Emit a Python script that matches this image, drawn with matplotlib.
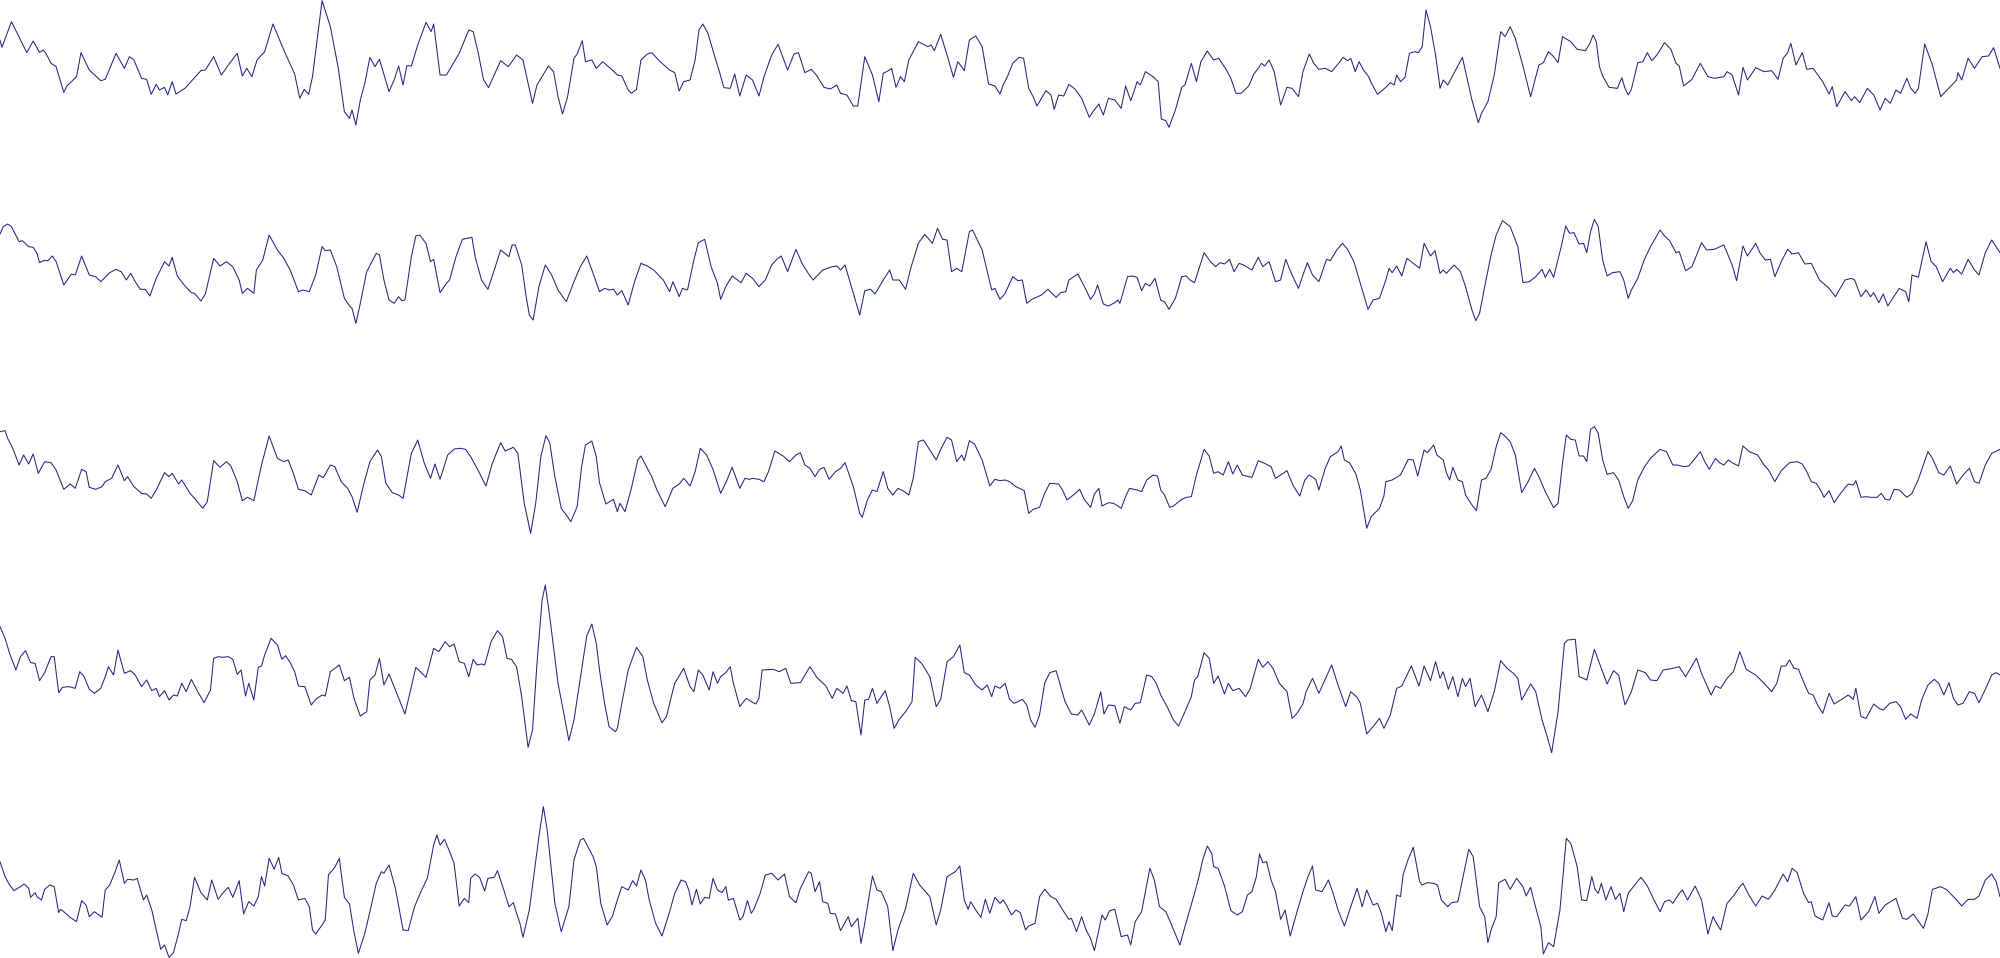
import numpy as np
import matplotlib
matplotlib.use('Agg')
import matplotlib.pyplot as plt

# five traces as (sample, depth) turning points.
# each trace is split in two halves of 1568 samples; depth grows downward.
HALF = 1568

ch1_a = [(0,120),(3,142),(18,65),(42,158),(52,123),(62,157),(68,150),(72,160),(80,190),(88,200),(100,277),(105,258),(120,230),(127,158),(140,210),(158,242),(165,238),(182,160),(195,205),(203,170),(210,180),(222,235),(230,238),(237,283),(245,253),(250,270),(258,262),(263,285),(270,245),(276,282),(290,265),(315,212),(322,210),(335,170),(347,225),(360,190),(372,160),(380,228),(387,205),(395,230),(403,180),(415,155),(428,72),(445,150),(462,222),(470,295),(477,268),(484,283),(490,230),(505,2),(518,80),(530,200),(540,335),(548,355),(552,330),(558,375),(565,300),(572,250),(580,172),(588,200),(595,178),(610,275),(618,240),(625,198),(632,255),(638,197),(645,198),(655,135),(668,67),(676,95),(680,72),(690,225),(700,225),(720,160),(735,90),(742,95),(750,160),(758,238),(766,263),(785,182),(797,200),(810,165),(820,180),(835,310),(842,255),(860,198),(868,215),(875,290),(882,342),(890,290),(900,175),(905,162),(913,122),(918,185),(928,180),(935,205),(945,185),(960,210),(968,225),(975,228),(985,270),(990,280),(998,268),(1005,180),(1015,162),(1022,158),(1035,185),(1050,210),(1058,218),(1065,273),(1072,245),(1082,240),(1090,180),(1096,90),(1102,72),(1110,100),(1120,165),(1128,215),(1135,263),(1145,265),(1152,222),(1160,288),(1170,225),(1180,240),(1190,288),(1198,230),(1210,165),(1220,133),(1235,210),(1245,162),(1252,158),(1262,218),(1272,208),(1280,225),(1292,262),(1302,267),(1312,255),(1318,280),(1328,285),(1338,318),(1345,318),(1356,170),(1368,225),(1378,305),(1385,220),(1395,210),(1398,205),(1405,262),(1412,230),(1418,245),(1425,180),(1440,125),(1455,140),(1460,135),(1465,152),(1475,103),(1485,165),(1495,232),(1502,185),(1512,212),(1520,120),(1530,108),(1540,140),(1550,252),(1560,258),(1568,282)]
ch1_b = [(0,285),(5,255),(12,228),(20,190),(30,172),(37,175),(45,265),(52,290),(58,318),(65,295),(72,272),(80,285),(85,328),(92,285),(100,288),(108,253),(118,268),(128,295),(140,352),(147,332),(155,312),(162,345),(170,295),(180,300),(190,325),(197,258),(205,302),(210,275),(215,245),(220,255),(228,215),(240,230),(248,245),(253,357),(260,362),(265,382),(275,330),(285,262),(290,255),(300,190),(308,245),(315,185),(325,153),(335,180),(343,175),(355,210),(362,235),(370,280),(378,280),(390,258),(398,222),(405,205),(410,190),(415,198),(422,180),(430,215),(440,315),(450,262),(458,265),(468,290),(475,215),(485,162),(492,190),(500,208),(510,205),(520,215),(530,192),(538,172),(545,182),(550,175),(557,215),(563,185),(570,210),(578,230),(583,252),(592,283),(605,262),(612,248),(618,255),(622,225),(628,245),(635,232),(642,160),(650,155),(656,158),(662,140),(668,30),(675,80),(683,165),(690,265),(695,240),(702,255),(725,172),(740,300),(750,368),(755,340),(765,305),(775,225),(785,95),(792,110),(800,80),(808,115),(820,198),(832,290),(845,195),(852,188),(860,155),(868,170),(875,188),(882,110),(895,125),(905,148),(918,152),(925,130),(930,105),(935,125),(940,200),(945,228),(955,262),(968,265),(975,233),(980,265),(985,285),(990,268),(1000,188),(1008,185),(1015,158),(1022,182),(1030,165),(1042,128),(1052,148),(1060,190),(1065,198),(1072,258),(1085,238),(1098,190),(1110,230),(1120,235),(1135,230),(1140,215),(1148,225),(1158,285),(1165,202),(1172,240),(1185,203),(1198,215),(1210,212),(1220,238),(1228,175),(1235,158),(1240,130),(1248,195),(1258,158),(1265,208),(1275,205),(1290,245),(1300,282),(1305,260),(1312,320),(1325,275),(1335,302),(1340,290),(1348,308),(1360,265),(1370,285),(1380,330),(1388,295),(1396,310),(1405,270),(1412,280),(1422,235),(1428,265),(1435,280),(1440,265),(1450,132),(1462,195),(1475,290),(1485,270),(1500,240),(1502,218),(1508,240),(1518,175),(1528,205),(1540,170),(1550,168),(1558,143),(1568,205)]

ch2_a = [(0,102),(5,80),(12,72),(18,80),(30,125),(35,122),(45,140),(52,142),(58,160),(62,188),(68,182),(75,182),(82,168),(88,185),(100,255),(112,222),(118,225),(128,168),(140,225),(150,230),(158,245),(172,218),(182,208),(190,215),(198,240),(205,220),(212,245),(220,268),(228,268),(235,288),(245,235),(258,185),(265,198),(270,172),(278,228),(290,258),(300,278),(305,280),(315,303),(322,282),(335,175),(345,198),(355,185),(365,200),(375,240),(380,280),(388,265),(398,280),(402,210),(412,180),(422,105),(435,150),(445,175),(455,210),(468,275),(475,270),(485,275),(495,225),(505,140),(510,152),(518,150),(528,200),(540,295),(548,318),(552,325),(558,370),(565,310),(575,215),(590,160),(595,165),(602,240),(610,300),(618,310),(625,290),(630,302),(635,300),(645,170),(652,108),(658,105),(668,130),(675,185),(680,178),(690,278),(700,250),(705,240),(715,170),(725,118),(740,112),(745,170),(755,240),(765,268),(775,210),(785,150),(798,170),(803,135),(808,135),(818,195),(825,290),(830,345),(836,360),(845,260),(855,195),(865,225),(875,270),(888,305),(900,245),(910,200),(920,168),(930,220),(940,275),(948,265),(955,270),(962,268),(968,285),(975,272),(985,315),(995,245),(1005,190),(1015,198),(1025,210),(1040,240),(1050,275),(1055,245),(1065,290),(1070,265),(1078,270),(1088,180),(1095,128),(1105,118),(1115,200),(1125,250),(1130,298),(1138,260),(1148,228),(1162,248),(1170,220),(1180,235),(1190,260),(1200,240),(1210,195),(1218,178),(1225,168),(1235,215),(1248,148),(1258,192),(1268,222),(1275,240),(1290,210),(1305,200),(1312,198),(1318,210),(1325,195),(1335,260),(1348,345),(1356,272),(1365,268),(1372,282),(1385,240),(1395,210),(1400,240),(1410,240),(1420,268),(1428,205),(1440,130),(1450,103),(1462,130),(1470,85),(1478,118),(1485,120),(1492,215),(1500,205),(1508,215),(1520,95),(1525,90),(1540,150),(1555,270),(1560,265),(1568,298)]
ch2_b = [(0,300),(8,280),(20,230),(28,242),(35,240),(42,310),(50,298),(65,285),(75,268),(88,292),(95,278),(103,275),(108,240),(122,222),(135,270),(142,298),(148,282),(153,255),(162,312),(170,318),(180,308),(185,300),(188,310),(200,230),(208,228),(215,232),(222,272),(228,250),(235,258),(243,235),(252,300),(258,305),(265,328),(275,295),(285,230),(292,228),(298,240),(305,248),(320,158),(330,185),(338,200),(345,188),(352,192),(360,178),(367,215),(375,190),(382,195),(395,210),(405,172),(412,200),(422,185),(432,245),(440,240),(448,178),(458,225),(468,265),(475,225),(482,188),(490,225),(500,245),(512,178),(518,182),(528,150),(537,130),(545,148),(555,185),(565,250),(577,328),(585,300),(595,295),(605,240),(610,205),(615,218),(622,198),(630,228),(638,175),(658,205),(665,130),(675,168),(682,152),(690,220),(695,210),(700,220),(712,195),(722,215),(730,260),(740,330),(746,362),(752,340),(760,260),(770,165),(778,105),(788,62),(800,80),(812,140),(820,248),(830,245),(840,230),(850,208),(855,232),(862,208),(868,232),(880,140),(887,78),(893,100),(900,98),(908,132),(915,130),(920,158),(926,95),(932,58),(938,80),(945,180),(952,228),(960,218),(972,215),(978,240),(985,295),(990,270),(1000,235),(1010,180),(1020,140),(1035,90),(1042,108),(1050,122),(1060,158),(1065,155),(1075,212),(1085,200),(1100,128),(1108,150),(1120,148),(1135,135),(1148,195),(1155,242),(1165,138),(1172,168),(1185,130),(1192,160),(1200,180),(1208,178),(1215,230),(1225,185),(1235,148),(1242,162),(1252,158),(1262,192),(1272,190),(1285,240),(1300,265),(1310,290),(1325,240),(1335,235),(1340,240),(1350,290),(1358,270),(1365,290),(1370,278),(1378,308),(1385,282),(1392,318),(1398,300),(1410,265),(1420,275),(1425,305),(1430,225),(1440,232),(1452,125),(1460,185),(1468,200),(1478,245),(1490,205),(1495,218),(1500,208),(1508,222),(1518,178),(1528,210),(1535,225),(1545,158),(1555,120),(1568,158)]

ch3_a = [(0,155),(8,152),(12,175),(20,205),(30,255),(37,225),(45,252),(52,222),(60,280),(70,245),(80,248),(88,270),(100,328),(110,312),(118,325),(128,268),(135,275),(140,322),(150,328),(160,320),(165,305),(175,295),(185,255),(195,302),(200,290),(210,320),(222,340),(230,342),(237,355),(245,330),(258,278),(265,290),(270,280),(280,312),(285,300),(298,340),(305,355),(318,385),(325,365),(335,242),(345,262),(355,245),(362,258),(372,305),(380,362),(388,352),(398,362),(410,255),(422,168),(435,235),(445,245),(452,240),(460,280),(468,328),(478,332),(488,345),(500,285),(507,293),(518,255),(525,260),(535,305),(545,325),(552,350),(560,397),(570,315),(580,245),(592,210),(598,230),(605,310),(615,338),(625,345),(632,355),(645,220),(655,180),(665,248),(675,295),(682,252),(690,298),(702,225),(712,207),(722,205),(730,208),(738,230),(748,265),(762,318),(772,250),(785,188),(792,213),(805,202),(812,220),(822,370),(832,460),(840,370),(848,230),(856,167),(862,188),(870,290),(880,385),(888,405),(895,425),(905,380),(912,260),(918,195),(928,183),(935,230),(940,308),(950,372),(962,358),(968,395),(972,370),(980,395),(990,325),(1000,240),(1005,228),(1015,265),(1022,290),(1030,330),(1043,380),(1055,325),(1065,312),(1072,295),(1082,318),(1090,275),(1098,205),(1108,225),(1118,268),(1130,340),(1140,300),(1148,262),(1160,325),(1168,295),(1175,298),(1180,295),(1190,298),(1198,305),(1205,275),(1215,213),(1228,228),(1238,245),(1248,225),(1255,218),(1262,255),(1270,265),(1278,290),(1285,268),(1292,262),(1300,298),(1310,275),(1318,265),(1325,248),(1338,320),(1348,400),(1352,412),(1360,360),(1368,330),(1375,335),(1385,275),(1392,325),(1400,345),(1408,325),(1418,335),(1425,345),(1432,295),(1440,185),(1448,180),(1458,210),(1468,240),(1475,208),(1485,172),(1492,180),(1500,245),(1508,225),(1512,242),(1520,182),(1528,192),(1540,240),(1552,318),(1560,298),(1568,302)]
ch3_b = [(0,310),(8,300),(15,305),(25,320),(38,332),(45,400),(52,388),(62,382),(70,340),(78,310),(92,312),(98,330),(105,360),(115,345),(125,328),(132,358),(142,382),(148,342),(155,325),(160,378),(170,368),(178,370),(185,378),(190,385),(198,345),(203,325),(215,330),(222,335),(230,300),(240,285),(247,288),(252,330),(258,345),(266,382),(272,378),(285,358),(292,352),(300,350),(308,285),(320,208),(328,228),(335,280),(342,275),(350,285),(358,245),(365,282),(372,255),(380,285),(390,290),(395,292),(405,242),(415,250),(425,260),(432,295),(440,285),(450,272),(460,318),(470,348),(478,300),(485,285),(495,298),(500,330),(510,265),(518,230),(530,215),(535,198),(540,240),(548,248),(558,282),(565,330),(575,445),(582,410),(595,385),(602,348),(605,305),(615,300),(628,285),(640,238),(648,240),(655,288),(665,210),(670,218),(680,195),(685,225),(695,240),(700,278),(705,300),(710,262),(718,300),(725,305),(730,345),(740,375),(747,392),(755,300),(762,295),(770,268),(778,200),(785,158),(790,165),(800,185),(808,225),(818,338),(828,305),(838,265),(845,290),(855,335),(868,383),(875,370),(882,250),(888,165),(895,178),(902,180),(908,228),(915,228),(920,245),(926,148),(932,140),(938,160),(945,240),(952,283),(962,278),(970,300),(978,350),(985,385),(992,362),(1000,300),(1010,262),(1020,235),(1035,208),(1045,215),(1055,255),(1062,255),(1072,260),(1080,258),(1090,235),(1098,215),(1105,245),(1112,268),(1122,235),(1128,248),(1135,255),(1142,240),(1148,248),(1158,258),(1165,198),(1175,215),(1188,225),(1198,255),(1205,270),(1215,305),(1225,272),(1238,248),(1250,245),(1258,252),(1265,275),(1272,305),(1280,310),(1288,335),(1292,352),(1300,332),(1308,368),(1318,340),(1330,312),(1338,315),(1342,302),(1350,352),(1358,350),(1365,352),(1375,352),(1382,340),(1388,358),(1395,360),(1402,328),(1410,330),(1422,352),(1430,340),(1440,298),(1455,215),(1462,235),(1472,278),(1480,285),(1490,258),(1500,312),(1510,285),(1520,265),(1528,305),(1535,310),(1545,255),(1555,220),(1568,208)]

ch4_a = [(0,200),(8,235),(15,280),(25,330),(32,290),(40,272),(48,308),(55,310),(62,362),(70,338),(80,290),(85,290),(92,398),(98,382),(108,380),(118,385),(125,335),(132,350),(140,388),(148,400),(158,385),(165,350),(170,320),(178,345),(185,270),(195,340),(205,332),(212,345),(222,380),(230,360),(238,392),(245,385),(250,410),(258,392),(265,420),(272,405),(278,408),(285,370),(292,395),(300,358),(310,395),(320,428),(330,390),(335,295),(342,290),(350,292),(358,290),(365,298),(372,343),(378,330),(385,408),(390,370),(398,420),(405,322),(410,318),(415,285),(425,235),(435,255),(442,298),(448,287),(455,308),(462,335),(468,378),(478,380),(488,435),(495,418),(505,405),(510,408),(518,335),(532,315),(540,362),(548,352),(555,415),(565,468),(575,455),(580,360),(588,345),(595,295),(602,375),(610,342),(620,390),(635,462),(645,380),(652,322),(668,352),(680,265),(688,275),(698,245),(705,260),(712,252),(720,305),(728,310),(735,350),(742,298),(748,315),(755,312),(760,315),(770,245),(780,212),(788,230),(795,295),(802,298),(810,320),(818,410),(828,562),(835,510),(842,310),(850,120),(855,75),(862,170),(875,370),(888,500),(892,542),(900,480),(912,330),(920,228),(928,192),(935,250),(940,330),(948,430),(955,500),(965,515),(968,505),(975,430),(985,330),(998,262),(1008,290),(1015,360),(1025,430),(1038,488),(1045,470),(1052,415),(1058,370),(1072,325),(1082,380),(1088,395),(1095,330),(1102,345),(1112,390),(1118,335),(1125,370),(1130,350),(1138,338),(1145,320),(1150,370),(1160,440),(1170,415),(1178,425),(1185,432),(1190,415),(1195,330),(1212,328),(1222,335),(1232,325),(1240,370),(1255,368),(1270,320),(1280,350),(1285,360),(1295,378),(1305,415),(1312,385),(1322,400),(1328,378),(1335,422),(1342,425),(1350,525),(1356,420),(1362,418),(1368,385),(1375,430),(1388,392),(1395,440),(1402,505),(1410,478),(1420,455),(1430,425),(1435,292),(1445,310),(1458,350),(1468,440),(1475,418),(1485,305),(1495,290),(1505,255),(1512,338),(1520,345),(1530,375),(1540,390),(1548,375),(1555,410),(1560,378),(1568,385)]
ch4_b = [(0,385),(8,370),(15,418),(22,430),(28,425),(35,418),(42,435),(48,480),(55,502),(62,465),(70,370),(78,338),(88,332),(95,378),(102,425),(112,462),(122,465),(128,450),(140,495),(148,462),(158,395),(163,462),(170,435),(180,437),(188,490),(195,440),(205,450),(212,430),(220,428),(230,345),(238,350),(245,370),(252,405),(262,440),(272,480),(280,498),(290,455),(300,410),(305,360),(310,350),(320,278),(328,295),(335,370),(342,348),(352,402),(358,370),(365,392),(375,385),(385,410),(392,388),(405,298),(412,322),(420,305),(428,325),(438,370),(450,395),(458,475),(465,462),(475,432),(480,395),(490,355),(500,400),(520,315),(530,375),(542,440),(550,395),(560,412),(565,430),(575,522),(585,500),(595,475),(602,505),(612,465),(622,385),(630,378),(645,318),(657,378),(665,318),(675,362),(683,305),(690,355),(695,335),(703,388),(710,350),(718,410),(725,355),(730,380),(737,355),(745,440),(755,405),(765,455),(775,395),(785,302),(795,325),(805,340),(812,355),(818,420),(832,372),(840,395),(850,480),(858,530),(865,578),(875,455),(885,250),(890,240),(902,238),(908,350),(915,355),(920,360),(932,268),(940,310),(952,372),(962,332),(970,345),(980,435),(990,395),(1000,330),(1012,338),(1020,360),(1030,362),(1040,330),(1055,325),(1065,320),(1075,350),(1085,318),(1092,295),(1100,340),(1108,375),(1115,405),(1122,378),(1130,385),(1140,355),(1150,335),(1160,275),(1170,328),(1185,345),(1198,370),(1210,395),(1218,370),(1225,318),(1232,318),(1238,300),(1245,325),(1252,328),(1262,375),(1268,400),(1275,405),(1282,435),(1290,460),(1300,400),(1308,432),(1320,418),(1330,405),(1338,418),(1342,385),(1350,470),(1358,475),(1370,432),(1378,445),(1385,450),(1395,430),(1405,425),(1412,440),(1420,478),(1428,462),(1438,475),(1445,420),(1455,375),(1465,358),(1472,370),(1480,405),(1488,368),(1495,415),(1502,435),(1510,430),(1520,395),(1528,400),(1535,428),(1545,388),(1555,345),(1562,338),(1568,345)]

ch5_a = [(0,305),(8,350),(15,375),(22,392),(32,380),(38,372),(45,385),(48,412),(55,398),(58,410),(65,420),(70,388),(78,375),(85,380),(92,458),(95,448),(100,455),(110,472),(120,485),(128,422),(135,435),(140,470),(148,455),(155,465),(160,472),(165,390),(172,375),(180,338),(187,300),(195,370),(200,358),(210,360),(215,355),(225,420),(230,405),(238,450),(245,510),(252,568),(258,555),(265,592),(272,578),(280,520),(285,478),(292,482),(298,440),(305,352),(315,398),(325,420),(332,360),(342,418),(350,398),(358,382),(365,412),(375,362),(382,462),(390,425),(398,438),(405,410),(410,350),(415,378),(422,295),(430,328),(437,292),(442,340),(452,348),(460,375),(468,420),(478,415),(485,440),(490,510),(495,522),(505,495),(510,480),(515,345),(525,322),(532,295),(540,412),(548,432),(555,515),(562,580),(572,520),(580,455),(590,370),(598,335),(602,340),(610,315),(620,385),(632,510),(640,512),(650,440),(660,395),(670,355),(680,255),(685,225),(690,255),(697,238),(705,275),(712,310),(720,438),(728,415),(735,428),(738,355),(745,342),(752,352),(760,393),(765,355),(775,352),(780,332),(790,390),(798,440),(805,428),(810,460),(815,488),(820,532),(830,450),(845,230),(852,140),(858,210),(870,430),(880,515),(892,440),(900,300),(910,240),(915,235),(930,290),(935,320),(942,430),(952,495),(960,470),(968,420),(975,380),(985,390),(992,362),(998,378),(1005,330),(1012,360),(1018,420),(1028,490),(1038,528),(1050,455),(1058,400),(1068,360),(1075,365),(1080,390),(1085,435),(1092,388),(1098,432),(1105,412),(1112,415),(1118,355),(1125,390),(1132,398),(1138,380),(1142,420),(1150,415),(1160,480),(1165,470),(1172,422),(1178,460),(1182,448),(1192,400),(1200,345),(1210,340),(1220,360),(1230,342),(1238,410),(1248,428),(1255,385),(1268,335),(1272,340),(1278,395),(1285,365),(1290,425),(1298,430),(1302,460),(1310,462),(1318,512),(1330,470),(1335,500),(1345,475),(1350,550),(1355,500),(1368,348),(1375,390),(1382,395),(1392,440),(1400,572),(1408,510),(1420,445),(1432,340),(1442,375),(1450,392),(1458,410),(1468,495),(1475,450),(1485,350),(1498,335),(1505,318),(1512,420),(1518,448),(1522,425),(1530,450),(1538,472),(1545,418),(1552,460),(1560,412),(1568,430)]
ch5_b = [(0,430),(5,420),(10,435),(18,465),(25,450),(32,458),(40,510),(45,498),(55,490),(62,410),(70,388),(80,410),(88,418),(100,455),(108,478),(112,475),(120,515),(128,470),(135,510),(142,535),(148,572),(155,510),(160,465),(165,480),(172,452),(180,448),(190,530),(200,525),(205,555),(212,485),(222,455),(228,395),(235,325),(242,360),(250,440),(260,455),(268,490),(282,555),(290,500),(305,400),(312,350),(318,298),(325,258),(332,280),(335,320),(342,325),(352,378),(362,452),(372,465),(380,455),(388,405),(395,395),(402,350),(407,282),(412,308),(418,305),(425,360),(432,395),(440,478),(447,450),(455,528),(465,460),(475,395),(482,355),(490,318),(495,390),(505,395),(515,360),(522,398),(530,450),(540,498),(550,440),(560,385),(568,440),(575,390),(585,435),(592,430),(598,460),(605,515),(610,485),(615,512),(622,405),(628,410),(632,345),(640,298),(648,262),(658,365),(662,375),(670,368),(680,370),(686,375),(692,420),(702,440),(708,428),(718,425),(725,360),(735,268),(742,290),(752,440),(760,470),(765,548),(770,510),(778,470),(782,368),(792,358),(800,388),(810,355),(820,380),(825,408),(832,382),(838,428),(848,500),(852,582),(860,548),(868,560),(878,450),(888,235),(895,250),(905,320),(912,420),(920,422),(928,350),(933,388),(938,400),(943,370),(950,420),(958,380),(965,418),(972,400),(978,455),(985,400),(998,368),(1005,352),(1015,378),(1025,418),(1035,455),(1042,425),(1050,420),(1055,430),(1065,400),(1070,390),(1078,420),(1090,378),(1100,420),(1110,522),(1118,470),(1122,485),(1130,510),(1140,430),(1150,408),(1160,380),(1165,370),(1175,408),(1185,438),(1195,408),(1205,418),(1215,390),(1228,342),(1235,365),(1242,325),(1250,338),(1260,400),(1268,428),(1272,425),(1278,468),(1290,480),(1300,428),(1305,468),(1312,470),(1325,435),(1332,438),(1342,410),(1350,480),(1362,455),(1372,410),(1378,460),(1388,435),(1405,415),(1415,475),(1422,478),(1432,462),(1448,505),(1455,462),(1462,388),(1475,380),(1485,390),(1500,420),(1508,438),(1518,418),(1528,418),(1535,408),(1545,360),(1555,342),(1562,365),(1568,410)]

channels = [(ch1_a, ch1_b), (ch2_a, ch2_b), (ch3_a, ch3_b), (ch4_a, ch4_b), (ch5_a, ch5_b)]
levels = [0, 600, 1140, 1680, 2280]  # vertical offset of each trace

line_color = '#25257f'

fig = plt.figure(figsize=(20, 9.58), dpi=100)
ax = fig.add_axes([0, 0, 1, 1])

for (first, second), level in zip(channels, levels):
    t = np.array([p[0] for p in first] + [HALF + p[0] for p in second[1:]])
    v = np.array([p[1] for p in first] + [p[1] for p in second[1:]])
    ax.plot(t, -(level + v), color=line_color, lw=0.75,
            solid_joinstyle='round', solid_capstyle='round')

ax.set_xlim(0, 2 * HALF)
ax.set_ylim(-2874, 0)
ax.axis('off')

fig.savefig('out.png', dpi=100, facecolor='white')
